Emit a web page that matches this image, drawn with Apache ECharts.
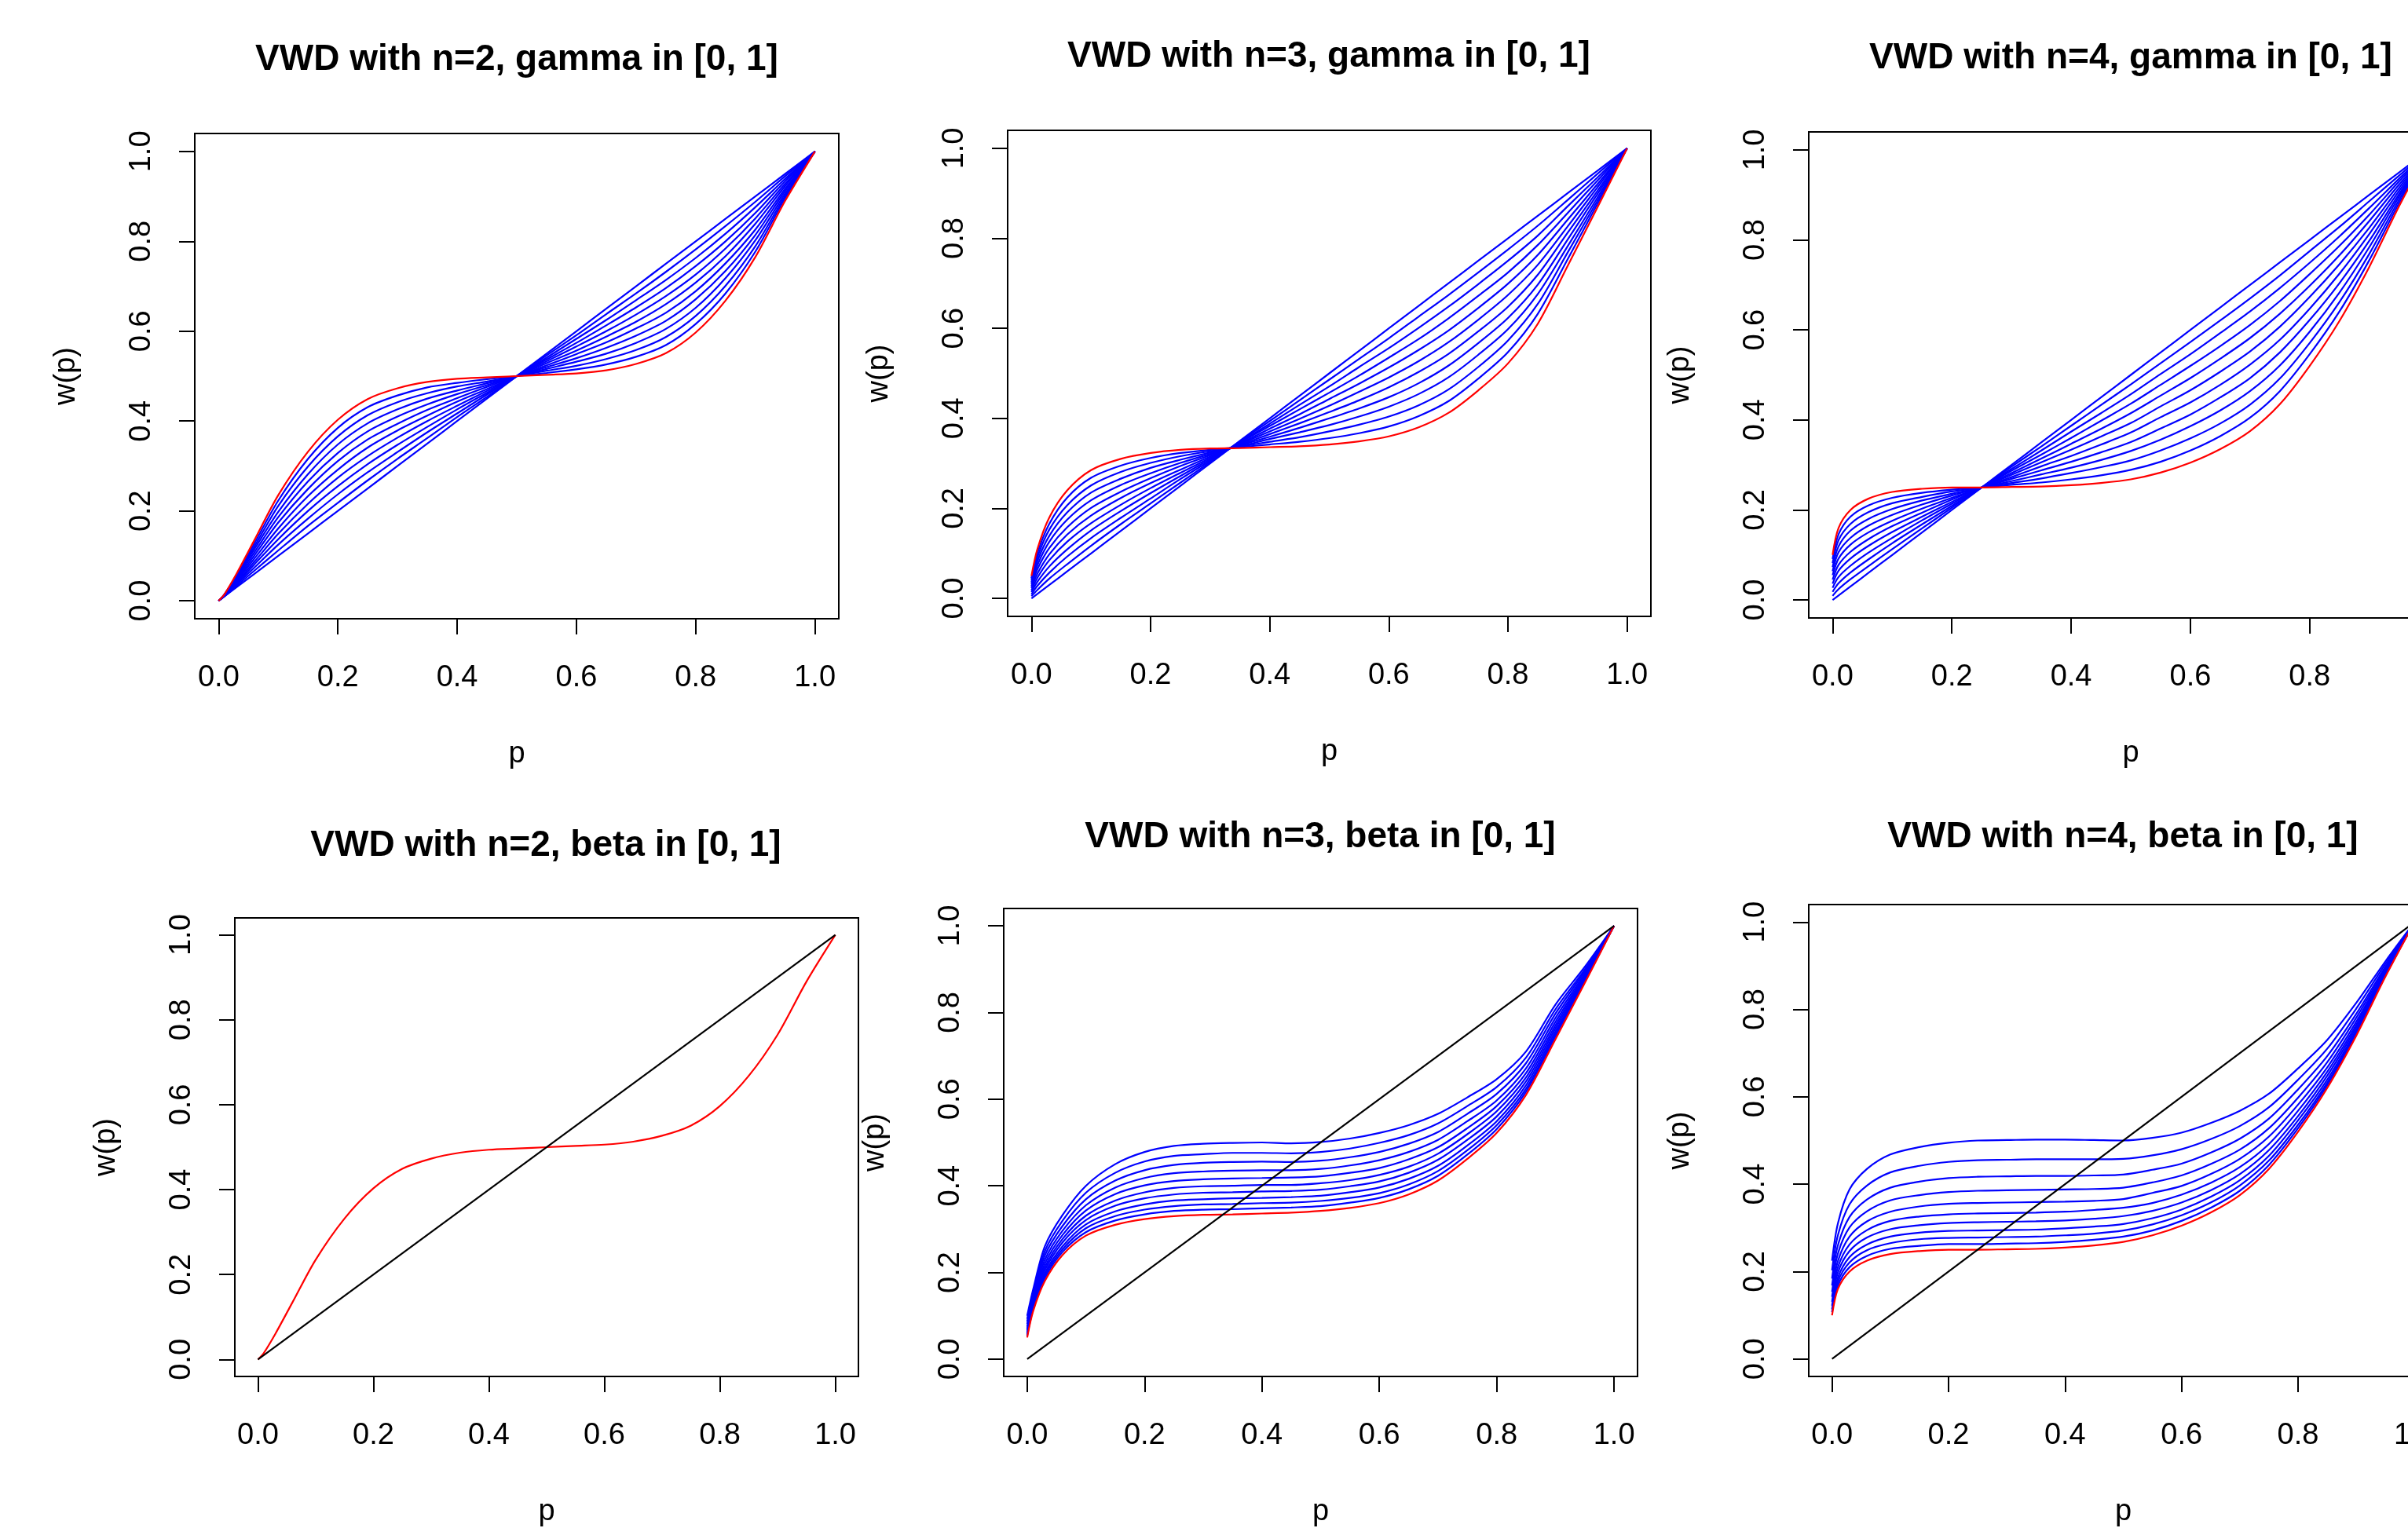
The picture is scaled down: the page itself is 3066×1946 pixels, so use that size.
<!DOCTYPE html>
<html>
<head>
<meta charset="utf-8">
<title>VWD curves</title>
<script src="https://cdn.jsdelivr.net/npm/echarts@6/dist/echarts.min.js"></script>
<style>
  html, body { margin: 0; padding: 0; background: #fff; overflow: hidden; }
  #chart { width: 3200px; height: 1946px; }
</style>
</head>
<body>
<div id="chart"></div>
<script>
// p values shared by every curve
var P = [0, 0.01, 0.03, 0.06, 0.1, 0.15, 0.2, 0.25, 0.3, 0.35, 0.4, 0.45, 0.5, 0.55, 0.6, 0.65, 0.7, 0.75, 0.8, 0.85, 0.9, 0.95, 1];
var TICKS = [0, 0.2, 0.4, 0.6, 0.8, 1.0];

// red limit curves
var redN2 = [0, 0.015, 0.06, 0.135, 0.235, 0.332, 0.403, 0.449, 0.473, 0.487, 0.494, 0.497, 0.5, 0.503, 0.506, 0.513, 0.527, 0.551, 0.597, 0.668, 0.765, 0.89, 1];
var redN3 = [0.05, 0.11, 0.18, 0.24, 0.285, 0.31, 0.323, 0.33, 0.333, 0.334, 0.336, 0.338, 0.342, 0.349, 0.36, 0.38, 0.412, 0.462, 0.522, 0.61, 0.738, 0.868, 1];
var redN4 = [0.1, 0.16, 0.2, 0.225, 0.24, 0.247, 0.25, 0.25, 0.251, 0.252, 0.255, 0.26, 0.268, 0.283, 0.305, 0.335, 0.375, 0.435, 0.52, 0.62, 0.74, 0.875, 1];

// diagonal w(p) = p
var diagP = [0, 1];
var diagW = [0, 1];

// blue families, gamma panels (top row)
var gammaN2 = [
  [0, 0.01, 0.03, 0.06, 0.1, 0.15, 0.2, 0.25, 0.3, 0.35, 0.4, 0.45, 0.5, 0.55, 0.6, 0.65, 0.7, 0.75, 0.8, 0.85, 0.9, 0.95, 1],
  [0, 0.01, 0.033, 0.067, 0.112, 0.167, 0.218, 0.268, 0.316, 0.362, 0.409, 0.454, 0.5, 0.546, 0.591, 0.638, 0.684, 0.732, 0.782, 0.834, 0.888, 0.945, 1],
  [0, 0.011, 0.036, 0.074, 0.125, 0.183, 0.237, 0.286, 0.331, 0.375, 0.417, 0.459, 0.5, 0.541, 0.583, 0.625, 0.669, 0.714, 0.763, 0.817, 0.876, 0.939, 1],
  [0, 0.011, 0.038, 0.081, 0.137, 0.2, 0.255, 0.304, 0.347, 0.387, 0.426, 0.463, 0.5, 0.537, 0.574, 0.613, 0.653, 0.696, 0.745, 0.8, 0.863, 0.934, 1],
  [0, 0.012, 0.041, 0.087, 0.149, 0.216, 0.274, 0.322, 0.363, 0.4, 0.434, 0.467, 0.5, 0.533, 0.566, 0.6, 0.637, 0.678, 0.726, 0.784, 0.851, 0.928, 1],
  [0, 0.012, 0.044, 0.094, 0.161, 0.233, 0.292, 0.341, 0.379, 0.412, 0.443, 0.471, 0.5, 0.529, 0.557, 0.588, 0.621, 0.66, 0.708, 0.767, 0.839, 0.923, 1],
  [0, 0.013, 0.046, 0.101, 0.174, 0.249, 0.311, 0.359, 0.394, 0.425, 0.451, 0.476, 0.5, 0.524, 0.549, 0.575, 0.606, 0.641, 0.689, 0.751, 0.826, 0.917, 1],
  [0, 0.013, 0.049, 0.108, 0.186, 0.266, 0.329, 0.377, 0.41, 0.437, 0.46, 0.48, 0.5, 0.52, 0.54, 0.563, 0.59, 0.623, 0.671, 0.734, 0.814, 0.912, 1],
  [0, 0.014, 0.052, 0.115, 0.198, 0.282, 0.348, 0.395, 0.426, 0.45, 0.468, 0.484, 0.5, 0.516, 0.532, 0.55, 0.574, 0.605, 0.652, 0.718, 0.802, 0.906, 1],
  [0, 0.014, 0.055, 0.121, 0.211, 0.299, 0.366, 0.413, 0.442, 0.462, 0.477, 0.488, 0.5, 0.512, 0.523, 0.538, 0.558, 0.587, 0.634, 0.701, 0.789, 0.901, 1],
  [0, 0.015, 0.057, 0.128, 0.223, 0.316, 0.385, 0.431, 0.457, 0.475, 0.485, 0.493, 0.5, 0.507, 0.515, 0.526, 0.543, 0.569, 0.616, 0.684, 0.777, 0.896, 1]
];
var gammaN3 = [
  [0, 0.01, 0.03, 0.06, 0.1, 0.15, 0.2, 0.25, 0.3, 0.35, 0.4, 0.45, 0.5, 0.55, 0.6, 0.65, 0.7, 0.75, 0.8, 0.85, 0.9, 0.95, 1],
  [0.005, 0.019, 0.044, 0.076, 0.117, 0.165, 0.211, 0.257, 0.303, 0.349, 0.394, 0.44, 0.486, 0.532, 0.578, 0.626, 0.674, 0.724, 0.775, 0.828, 0.885, 0.943, 1],
  [0.009, 0.028, 0.057, 0.093, 0.134, 0.179, 0.222, 0.265, 0.306, 0.347, 0.388, 0.43, 0.471, 0.514, 0.556, 0.601, 0.648, 0.698, 0.75, 0.806, 0.871, 0.935, 1],
  [0.014, 0.037, 0.071, 0.109, 0.151, 0.194, 0.234, 0.272, 0.309, 0.346, 0.383, 0.42, 0.457, 0.495, 0.535, 0.576, 0.622, 0.672, 0.724, 0.785, 0.856, 0.928, 1],
  [0.018, 0.046, 0.085, 0.126, 0.167, 0.208, 0.245, 0.279, 0.312, 0.344, 0.377, 0.409, 0.443, 0.477, 0.513, 0.552, 0.595, 0.645, 0.699, 0.763, 0.841, 0.92, 1],
  [0.023, 0.055, 0.098, 0.142, 0.184, 0.223, 0.256, 0.286, 0.315, 0.343, 0.371, 0.399, 0.428, 0.459, 0.491, 0.527, 0.569, 0.619, 0.674, 0.741, 0.826, 0.913, 1],
  [0.027, 0.065, 0.112, 0.158, 0.201, 0.237, 0.267, 0.294, 0.318, 0.341, 0.365, 0.389, 0.414, 0.44, 0.469, 0.503, 0.543, 0.593, 0.648, 0.719, 0.812, 0.905, 1],
  [0.032, 0.074, 0.126, 0.175, 0.218, 0.252, 0.278, 0.301, 0.321, 0.34, 0.359, 0.379, 0.4, 0.422, 0.447, 0.478, 0.517, 0.567, 0.623, 0.697, 0.797, 0.898, 1],
  [0.036, 0.083, 0.139, 0.191, 0.235, 0.266, 0.29, 0.308, 0.324, 0.338, 0.354, 0.369, 0.385, 0.404, 0.426, 0.454, 0.491, 0.541, 0.598, 0.676, 0.782, 0.89, 1],
  [0.041, 0.092, 0.153, 0.207, 0.251, 0.281, 0.301, 0.316, 0.327, 0.337, 0.348, 0.358, 0.371, 0.386, 0.404, 0.429, 0.464, 0.514, 0.573, 0.654, 0.768, 0.883, 1],
  [0.045, 0.101, 0.166, 0.224, 0.268, 0.295, 0.312, 0.323, 0.33, 0.336, 0.342, 0.348, 0.356, 0.367, 0.382, 0.405, 0.438, 0.488, 0.547, 0.632, 0.753, 0.876, 1]
];
var gammaN4 = [
  [0, 0.01, 0.03, 0.06, 0.1, 0.15, 0.2, 0.25, 0.3, 0.35, 0.4, 0.45, 0.5, 0.55, 0.6, 0.65, 0.7, 0.75, 0.8, 0.85, 0.9, 0.95, 1],
  [0.009, 0.024, 0.046, 0.075, 0.113, 0.159, 0.205, 0.25, 0.296, 0.341, 0.387, 0.433, 0.479, 0.526, 0.573, 0.621, 0.67, 0.721, 0.775, 0.829, 0.886, 0.943, 1],
  [0.018, 0.037, 0.061, 0.09, 0.126, 0.168, 0.209, 0.25, 0.291, 0.332, 0.374, 0.415, 0.457, 0.502, 0.546, 0.593, 0.641, 0.693, 0.749, 0.808, 0.871, 0.936, 1],
  [0.027, 0.051, 0.076, 0.105, 0.138, 0.177, 0.214, 0.25, 0.287, 0.323, 0.36, 0.398, 0.436, 0.478, 0.52, 0.564, 0.611, 0.664, 0.724, 0.787, 0.856, 0.93, 1],
  [0.036, 0.065, 0.092, 0.12, 0.151, 0.185, 0.218, 0.25, 0.282, 0.314, 0.347, 0.38, 0.415, 0.454, 0.493, 0.536, 0.582, 0.636, 0.698, 0.766, 0.842, 0.923, 1],
  [0.045, 0.078, 0.107, 0.135, 0.164, 0.194, 0.223, 0.25, 0.278, 0.306, 0.334, 0.363, 0.393, 0.43, 0.466, 0.507, 0.552, 0.607, 0.673, 0.746, 0.827, 0.916, 1],
  [0.055, 0.092, 0.123, 0.15, 0.176, 0.203, 0.227, 0.25, 0.273, 0.297, 0.32, 0.345, 0.372, 0.406, 0.439, 0.478, 0.523, 0.578, 0.647, 0.725, 0.813, 0.909, 1],
  [0.064, 0.106, 0.138, 0.165, 0.189, 0.212, 0.232, 0.25, 0.269, 0.288, 0.307, 0.328, 0.351, 0.381, 0.412, 0.45, 0.493, 0.55, 0.622, 0.704, 0.798, 0.902, 1],
  [0.073, 0.119, 0.154, 0.18, 0.202, 0.221, 0.236, 0.25, 0.264, 0.279, 0.294, 0.311, 0.331, 0.356, 0.386, 0.421, 0.464, 0.521, 0.596, 0.683, 0.784, 0.896, 1],
  [0.082, 0.133, 0.169, 0.195, 0.215, 0.229, 0.241, 0.25, 0.26, 0.27, 0.282, 0.295, 0.31, 0.332, 0.359, 0.392, 0.434, 0.492, 0.571, 0.662, 0.769, 0.889, 1],
  [0.091, 0.146, 0.185, 0.21, 0.227, 0.238, 0.245, 0.25, 0.256, 0.261, 0.268, 0.277, 0.289, 0.307, 0.332, 0.364, 0.405, 0.464, 0.546, 0.641, 0.755, 0.882, 1]
];

// blue families, beta panels (bottom row)
var betaN3 = [
  [0.1, 0.16, 0.26, 0.332, 0.4, 0.45, 0.478, 0.492, 0.497, 0.499, 0.5, 0.498, 0.501, 0.509, 0.522, 0.54, 0.566, 0.604, 0.646, 0.71, 0.818, 0.905, 1],
  [0.093, 0.153, 0.249, 0.319, 0.384, 0.43, 0.456, 0.469, 0.473, 0.476, 0.476, 0.475, 0.478, 0.486, 0.499, 0.517, 0.544, 0.584, 0.628, 0.696, 0.807, 0.899, 1],
  [0.087, 0.147, 0.239, 0.307, 0.369, 0.412, 0.436, 0.448, 0.453, 0.455, 0.456, 0.455, 0.458, 0.466, 0.478, 0.497, 0.524, 0.566, 0.612, 0.683, 0.797, 0.895, 1],
  [0.081, 0.141, 0.229, 0.296, 0.355, 0.396, 0.418, 0.429, 0.433, 0.435, 0.436, 0.436, 0.439, 0.447, 0.459, 0.478, 0.506, 0.549, 0.597, 0.671, 0.787, 0.89, 1],
  [0.075, 0.135, 0.22, 0.286, 0.343, 0.381, 0.401, 0.411, 0.415, 0.417, 0.418, 0.419, 0.422, 0.43, 0.441, 0.461, 0.489, 0.533, 0.584, 0.66, 0.778, 0.886, 1],
  [0.07, 0.13, 0.212, 0.277, 0.331, 0.366, 0.385, 0.395, 0.399, 0.4, 0.402, 0.402, 0.406, 0.413, 0.425, 0.444, 0.474, 0.519, 0.572, 0.65, 0.77, 0.883, 1],
  [0.066, 0.126, 0.205, 0.269, 0.321, 0.354, 0.371, 0.38, 0.384, 0.385, 0.387, 0.388, 0.391, 0.399, 0.41, 0.43, 0.46, 0.506, 0.56, 0.641, 0.763, 0.879, 1],
  [0.061, 0.121, 0.198, 0.26, 0.311, 0.341, 0.357, 0.366, 0.369, 0.371, 0.372, 0.374, 0.377, 0.385, 0.396, 0.416, 0.446, 0.493, 0.549, 0.632, 0.756, 0.876, 1],
  [0.057, 0.117, 0.192, 0.253, 0.302, 0.33, 0.345, 0.353, 0.357, 0.358, 0.36, 0.361, 0.365, 0.372, 0.383, 0.403, 0.434, 0.482, 0.54, 0.624, 0.75, 0.873, 1],
  [0.054, 0.114, 0.186, 0.247, 0.293, 0.32, 0.334, 0.342, 0.345, 0.346, 0.348, 0.35, 0.353, 0.361, 0.372, 0.392, 0.423, 0.472, 0.531, 0.617, 0.744, 0.871, 1]
];
var betaN4 = [
  [0.225, 0.31, 0.388, 0.435, 0.468, 0.485, 0.495, 0.5, 0.501, 0.502, 0.502, 0.501, 0.5, 0.506, 0.518, 0.54, 0.568, 0.607, 0.665, 0.73, 0.815, 0.91, 1],
  [0.203, 0.283, 0.354, 0.397, 0.427, 0.442, 0.451, 0.455, 0.456, 0.457, 0.457, 0.457, 0.458, 0.466, 0.48, 0.503, 0.533, 0.576, 0.639, 0.71, 0.802, 0.904, 1],
  [0.184, 0.26, 0.325, 0.365, 0.392, 0.406, 0.414, 0.417, 0.418, 0.419, 0.419, 0.42, 0.422, 0.433, 0.447, 0.472, 0.504, 0.55, 0.617, 0.693, 0.79, 0.898, 1],
  [0.168, 0.241, 0.301, 0.338, 0.363, 0.375, 0.382, 0.385, 0.386, 0.387, 0.388, 0.389, 0.392, 0.404, 0.42, 0.446, 0.479, 0.528, 0.598, 0.679, 0.781, 0.894, 1],
  [0.154, 0.224, 0.28, 0.315, 0.337, 0.349, 0.355, 0.357, 0.358, 0.359, 0.36, 0.362, 0.366, 0.38, 0.396, 0.423, 0.458, 0.509, 0.582, 0.667, 0.772, 0.89, 1],
  [0.142, 0.21, 0.262, 0.295, 0.316, 0.326, 0.331, 0.333, 0.334, 0.335, 0.337, 0.341, 0.346, 0.357, 0.376, 0.403, 0.439, 0.492, 0.568, 0.657, 0.765, 0.887, 1],
  [0.131, 0.198, 0.247, 0.278, 0.297, 0.306, 0.311, 0.313, 0.314, 0.315, 0.317, 0.321, 0.327, 0.339, 0.358, 0.386, 0.423, 0.478, 0.556, 0.648, 0.759, 0.884, 1],
  [0.122, 0.186, 0.233, 0.262, 0.28, 0.289, 0.293, 0.294, 0.295, 0.296, 0.299, 0.303, 0.309, 0.322, 0.342, 0.371, 0.409, 0.465, 0.546, 0.639, 0.753, 0.881, 1],
  [0.114, 0.177, 0.221, 0.249, 0.265, 0.274, 0.277, 0.278, 0.279, 0.28, 0.283, 0.287, 0.294, 0.308, 0.329, 0.358, 0.397, 0.454, 0.536, 0.632, 0.748, 0.879, 1],
  [0.107, 0.168, 0.21, 0.236, 0.252, 0.259, 0.263, 0.263, 0.264, 0.265, 0.268, 0.273, 0.28, 0.294, 0.316, 0.346, 0.385, 0.444, 0.528, 0.626, 0.744, 0.877, 1]
];

var FONT = "'Liberation Sans', Arial, sans-serif";

// layout of the six panels (plot box in px, title centre)
var panels = [
  { title: 'VWD with n=2, gamma in [0, 1]', box: [248, 170, 820, 618], titleAt: [658, 76], blue: gammaN2, red: redN2, diag: false },
  { title: 'VWD with n=3, gamma in [0, 1]', box: [1283, 166, 819, 619], titleAt: [1692, 72], blue: gammaN3, red: redN3, diag: false },
  { title: 'VWD with n=4, gamma in [0, 1]', box: [2303, 168, 820, 619], titleAt: [2713, 74], blue: gammaN4, red: redN4, diag: false },
  { title: 'VWD with n=2, beta in [0, 1]', box: [299, 1169, 794, 595], titleAt: [695, 1077], blue: [], red: redN2, diag: true },
  { title: 'VWD with n=3, beta in [0, 1]', box: [1278, 1157, 807, 604], titleAt: [1681, 1066], blue: betaN3, red: redN3, diag: true },
  { title: 'VWD with n=4, beta in [0, 1]', box: [2303, 1152, 801, 605], titleAt: [2703, 1066], blue: betaN4, red: redN4, diag: true }
];

function pairs(xs, ys) {
  return xs.map(function (x, k) { return [x, ys[k]]; });
}

function lineSeries(i, xs, ys, color) {
  return {
    type: 'line',
    xAxisIndex: i,
    yAxisIndex: i,
    data: pairs(xs, ys),
    showSymbol: false,
    smooth: 0.3,
    silent: true,
    lineStyle: { color: color, width: 2.2 },
    itemStyle: { color: color }
  };
}

function axisFor(i, name, nameGap, margin, rotate) {
  return {
    gridIndex: i,
    type: 'value',
    min: -0.04,
    max: 1.04,
    name: name,
    nameLocation: 'middle',
    nameGap: nameGap,
    nameRotate: rotate,
    nameTextStyle: { fontFamily: FONT, fontSize: 38, color: '#000' },
    axisLine: { show: false, onZero: false },
    axisTick: {
      show: true, inside: false, length: 20, customValues: TICKS,
      lineStyle: { color: '#000', width: 2 }
    },
    axisLabel: {
      show: true, margin: margin, rotate: rotate, customValues: TICKS,
      formatter: function (v) { return v.toFixed(1); },
      fontFamily: FONT, fontSize: 38, color: '#000'
    },
    splitLine: { show: false }
  };
}

var grids = [], xAxes = [], yAxes = [], series = [], texts = [];

panels.forEach(function (pn, i) {
  grids.push({
    left: pn.box[0], top: pn.box[1], width: pn.box[2], height: pn.box[3],
    show: true, borderColor: '#000', borderWidth: 2, backgroundColor: 'transparent'
  });
  xAxes.push(axisFor(i, 'p', 154, 57, 0));
  yAxes.push(axisFor(i, 'w(p)', 144, 48, 90));
  texts.push({
    type: 'text',
    x: pn.titleAt[0],
    y: pn.titleAt[1],
    style: {
      text: pn.title, align: 'center', verticalAlign: 'middle',
      font: 'bold 46px ' + FONT, fill: '#000'
    }
  });
  pn.blue.forEach(function (ys) {
    series.push(lineSeries(i, P, ys, '#0000FF'));
  });
  series.push(lineSeries(i, P, pn.red, '#FF0000'));
  if (pn.diag) {
    series.push(lineSeries(i, diagP, diagW, '#000000'));
  }
});

var myChart = echarts.init(document.getElementById('chart'));
myChart.setOption({
  backgroundColor: '#fff',
  animation: false,
  grid: grids,
  xAxis: xAxes,
  yAxis: yAxes,
  graphic: texts,
  series: series
});
</script>
</body>
</html>
